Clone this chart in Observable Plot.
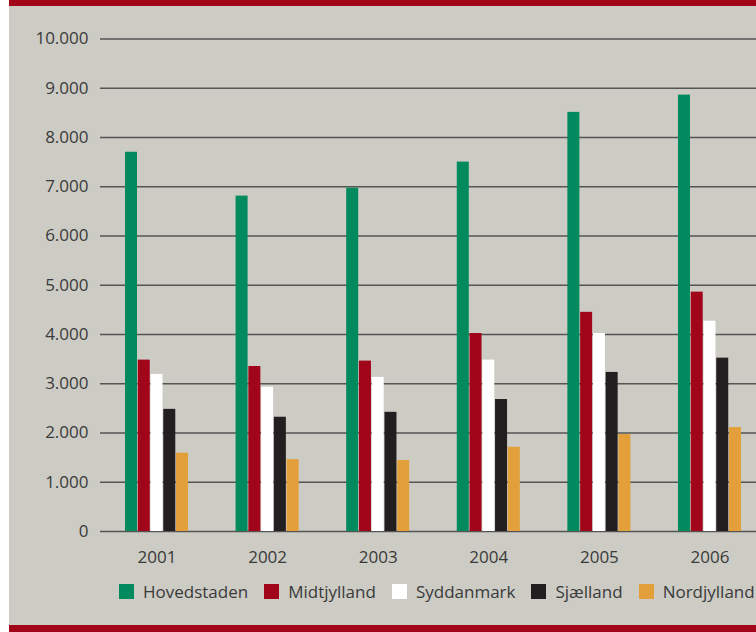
<!DOCTYPE html>
<html>
<head>
<meta charset="utf-8">
<script src="https://cdn.jsdelivr.net/npm/d3@7"></script>
<script src="https://cdn.jsdelivr.net/npm/@observablehq/plot@0.6"></script>
<style>
  html, body { margin: 0; padding: 0; background: #ffffff; overflow: hidden; }
  #panel { position: absolute; left: 9px; top: 0; width: 747px; height: 632px; background: #cccbc4; overflow: hidden; font-family: "Open Sans", sans-serif; }
  .band { position: absolute; left: 0; width: 100%; background: #a20517; }
  .layer { position: absolute; left: -9px; top: 0; width: 770px; height: 575px; }
  .layer svg { max-width: none !important; width: 770px; height: 575px; }
  #legend { position: absolute; left: 110px; top: 584px; display: flex; align-items: center; font-size: 17px; color: #3a3a3a; white-space: nowrap; }
  .item { display: flex; align-items: center; margin-right: 16px; }
  .sw { width: 15px; height: 15px; margin-right: 9px; }
  .lbl { line-height: 15px; }
</style>
</head>
<body>
<div id="panel">
  <div class="band" style="top:0;height:6px"></div>
  <div id="grid" class="layer"></div>
  <div id="chart" class="layer"></div>
  <div id="legend"></div>
  <div class="band" style="top:625px;height:7px"></div>
</div>
<script>
const years = ["2001", "2002", "2003", "2004", "2005", "2006"];
const regions = ["Hovedstaden", "Midtjylland", "Syddanmark", "Sjælland", "Nordjylland"];
const colors = ["#008a5e", "#a10519", "#ffffff", "#231f20", "#e3a03a"];
const hovedstaden = [7700, 6810, 6970, 7500, 8510, 8860];
const midtjylland = [3480, 3350, 3460, 4020, 4450, 4860];
const syddanmark = [3190, 2930, 3130, 3480, 4020, 4270];
const sjaelland = [2480, 2320, 2420, 2680, 3230, 3520];
const nordjylland = [1590, 1460, 1440, 1710, 1970, 2110];
const yTicks = [0, 1000, 2000, 3000, 4000, 5000, 6000, 7000, 8000, 9000, 10000];

const seriesValues = [hovedstaden, midtjylland, syddanmark, sjaelland, nordjylland];
const table = [];
years.forEach((year, i) => {
  regions.forEach((region, j) => {
    table.push({year, region, value: seriesValues[j][i]});
  });
});

const daLocale = d3.formatLocale({decimal: ",", thousands: ".", grouping: [3], currency: ["", " kr."]});
const fmt = daLocale.format(",d");

const common = {
  width: 770,
  height: 575,
  marginLeft: 100,
  marginRight: 4,
  marginTop: 38.5,
  marginBottom: 44,
  style: {background: "transparent", fontFamily: "'Open Sans', sans-serif", fontSize: "17px", color: "#3a3a3a", overflow: "visible", maxWidth: "none"}
};
const yScale = {domain: [0, 10000], ticks: yTicks, tickFormat: fmt, tickSize: 0, tickPadding: 12, label: null};

// Background layer: y axis labels and horizontal grid spanning the full width
const grid = Plot.plot({
  ...common,
  y: yScale,
  marks: [
    Plot.ruleY(yTicks, {stroke: "#555", strokeWidth: 1.6})
  ]
});
document.getElementById("grid").appendChild(grid);

// Foreground layer: grouped bars
const chart = Plot.plot({
  ...common,
  fx: {domain: years, paddingInner: 0.43, paddingOuter: 0.226, round: false, label: null, axis: "bottom", tickSize: 0, tickPadding: 19},
  x: {domain: regions, axis: null, paddingInner: 0.06, paddingOuter: 0, round: false},
  y: {...yScale, axis: null},
  color: {domain: regions, range: colors},
  marks: [
    Plot.barY(table, {fx: "year", x: "region", y: "value", fill: "region"})
  ]
});
document.getElementById("chart").appendChild(chart);

const legend = document.getElementById("legend");
regions.forEach((r, i) => {
  const item = document.createElement("div");
  item.className = "item";
  const sw = document.createElement("div");
  sw.className = "sw";
  sw.style.background = colors[i];
  const lbl = document.createElement("span");
  lbl.className = "lbl";
  lbl.textContent = r;
  item.appendChild(sw);
  item.appendChild(lbl);
  legend.appendChild(item);
});
</script>
</body>
</html>
